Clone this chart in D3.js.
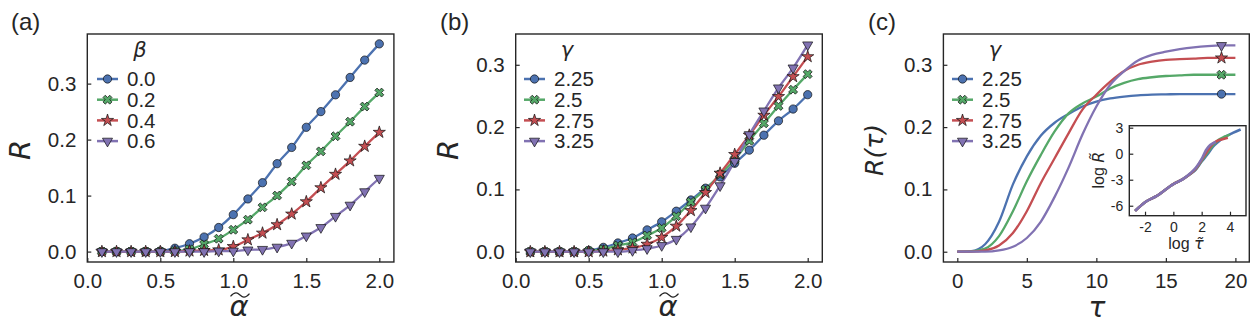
<!DOCTYPE html>
<html>
<head>
<meta charset="utf-8">
<script src="https://cdn.jsdelivr.net/npm/d3@7"></script>
<style>
body { margin: 0; background: #fff; }
svg { display: block; }
.tk text { font-family: "Liberation Sans", Arial, sans-serif; fill: #262626; }
.tk line { stroke: #262626; stroke-width: 1.2; }
.math { font-family: "DejaVu Sans", sans-serif; font-style: italic; fill: #262626; }
.txt { font-family: "Liberation Sans", Arial, sans-serif; fill: #262626; }
</style>
</head>
<body>
<svg id="fig" width="1260" height="332"></svg>
<script>
// ---- data ----
var alpha = [0.1,0.2,0.3,0.4,0.5,0.6,0.7,0.8,0.9,1.0,1.1,1.2,1.3,1.4,1.5,1.6,1.7,1.8,1.9,2.0];

var betaLabels = ["0.0","0.2","0.4","0.6"];
var rBeta00 = [0,0,0,0,0.001,0.006,0.014,0.026,0.043,0.066,0.094,0.123,0.157,0.186,0.222,0.250,0.280,0.311,0.342,0.371];
var rBeta02 = [0,0,0,0,0,0.001,0.004,0.013,0.023,0.039,0.057,0.079,0.100,0.125,0.154,0.179,0.206,0.232,0.259,0.284];
var rBeta04 = [0,0,0,0,0,0,0.001,0.002,0.003,0.009,0.021,0.033,0.048,0.067,0.089,0.114,0.138,0.162,0.188,0.213];
var rBeta06 = [0,0,0,0,0,0,0,0,0.001,0.001,0.003,0.004,0.008,0.015,0.028,0.043,0.063,0.083,0.107,0.131];

var gammaLabels = ["2.25","2.5","2.75","3.25"];
var rGam225 = [0,0,0,0,0.002,0.007,0.014,0.022,0.035,0.048,0.065,0.083,0.102,0.120,0.142,0.163,0.187,0.210,0.229,0.252];
var rGam25  = [0,0,0,0,0.001,0.004,0.010,0.015,0.026,0.038,0.057,0.080,0.100,0.124,0.148,0.178,0.206,0.234,0.260,0.285];
var rGam275 = [0,0,0,0,0,0.001,0.003,0.006,0.012,0.023,0.041,0.066,0.095,0.126,0.156,0.187,0.219,0.249,0.281,0.313];
var rGam325 = [0,0,0,0,0,0,0,0.002,0.005,0.010,0.020,0.040,0.070,0.106,0.145,0.188,0.226,0.263,0.295,0.332];

var tau = [0,1,2,3,4,5,6,7,8,9,10,11,12,13,14,15,16,17,18,19,20];
var rTau225 = [0,0.001,0.012,0.048,0.108,0.153,0.186,0.207,0.221,0.233,0.241,0.246,0.249,0.251,0.252,0.2525,0.253,0.253,0.253,0.253,0.253];
var rTau25  = [0,0.0005,0.005,0.025,0.065,0.113,0.155,0.193,0.222,0.238,0.249,0.262,0.271,0.277,0.280,0.282,0.283,0.284,0.284,0.284,0.284];
var rTau275 = [0,0,0.002,0.010,0.030,0.065,0.110,0.150,0.190,0.228,0.252,0.273,0.290,0.300,0.305,0.308,0.309,0.310,0.311,0.311,0.311];
var rTau325 = [0,0,0,0.002,0.008,0.022,0.048,0.088,0.135,0.188,0.233,0.268,0.290,0.307,0.316,0.321,0.325,0.328,0.330,0.331,0.331];
var markerTau = 19;

// inset: log tau~ vs log R~
var inset225 = [[-2.7,-6.6],[-2,-5.6],[-1.2,-4.9],[0,-3.5],[0.7,-2.9],[1.2,-2.35],[1.6,-1.8],[2.0,-0.9],[2.4,-0.1],[2.8,0.8],[3.2,1.4],[3.6,1.9],[4.2,2.4],[4.75,2.8]];
var inset25  = [[-2.7,-6.6],[-2,-5.6],[-1.2,-4.9],[0,-3.5],[0.7,-2.9],[1.2,-2.3],[1.6,-1.75],[2.0,-0.8],[2.4,0.1],[2.8,1.0],[3.2,1.6],[3.6,1.95],[4.0,2.2]];
var inset275 = [[-2.7,-6.6],[-2,-5.6],[-1.2,-4.9],[0,-3.5],[0.7,-2.9],[1.2,-2.3],[1.6,-1.7],[2.0,-0.7],[2.4,0.3],[2.7,1.0],[3.0,1.4],[3.4,1.65],[3.85,1.85]];
var inset325 = [[-2.7,-6.6],[-2,-5.6],[-1.2,-4.9],[0,-3.5],[0.7,-2.9],[1.2,-2.25],[1.6,-1.6],[2.0,-0.6],[2.3,0.4],[2.6,1.0],[2.85,1.25],[3.0,1.35]];

var colors = ["#4c72b0","#55a868","#c44e52","#8172b2"];
var symbols = [
  {type: d3.symbolCircle, size: 54, rot: 0},
  {type: d3.symbolCross, size: 50, rot: 45},
  {type: d3.symbolStar, size: 46, rot: 0},
  {type: d3.symbolTriangle, size: 44, rot: 180}
];

var svg = d3.select("#fig");

function marker(g, i, x, y) {
  var s = symbols[i];
  g.append("path")
    .attr("d", d3.symbol().type(s.type).size(s.size)())
    .attr("transform", "translate(" + x + "," + y + ") rotate(" + s.rot + ")")
    .attr("fill", colors[i])
    .attr("stroke", "#111")
    .attr("stroke-width", 0.7);
}

function frame(g, x, y, fs, pad, xticks, yticks, xfmt, yfmt) {
  var ax = g.append("g").attr("class", "tk")
    .attr("transform", "translate(0," + y.range()[0] + ")")
    .call(d3.axisBottom(x).tickValues(xticks).tickFormat(xfmt).tickSizeInner(-4).tickSizeOuter(0).tickPadding(pad));
  ax.select(".domain").remove();
  ax.selectAll("text").attr("font-size", fs).attr("font-family", null);
  var ay = g.append("g").attr("class", "tk")
    .attr("transform", "translate(" + x.range()[0] + ",0)")
    .call(d3.axisLeft(y).tickValues(yticks).tickFormat(yfmt).tickSizeInner(-4).tickSizeOuter(0).tickPadding(pad));
  ay.select(".domain").remove();
  ay.selectAll("text").attr("font-size", fs).attr("font-family", null);
  g.append("rect")
    .attr("x", x.range()[0]).attr("y", y.range()[1])
    .attr("width", x.range()[1] - x.range()[0])
    .attr("height", y.range()[0] - y.range()[1])
    .attr("fill", "none").attr("stroke", "#262626").attr("stroke-width", 1.4);
}

function tilde(g, cx, cy, w) {
  var h = w * 0.18, p = d3.path();
  p.moveTo(cx - w / 2, cy + h * 0.4);
  p.bezierCurveTo(cx - w / 4, cy - h * 1.2, cx - w / 8, cy - h * 0.6, cx, cy);
  p.bezierCurveTo(cx + w / 8, cy + h * 0.6, cx + w / 4, cy + h * 1.2, cx + w / 2, cy - h * 0.4);
  g.append("path").attr("d", p.toString()).attr("fill", "none")
    .attr("stroke", "#262626").attr("stroke-width", 1.3);
}

function legend(g, x0, title, labels) {
  g.append("text").attr("class", "math").attr("x", x0 + 43).attr("y", 57)
    .attr("text-anchor", "middle").attr("font-size", 21).text(title);
  labels.forEach(function(lb, i) {
    var yy = 79 + i * 20.7;
    g.append("line").attr("x1", x0).attr("x2", x0 + 21).attr("y1", yy).attr("y2", yy)
      .attr("stroke", colors[i]).attr("stroke-width", 2.5);
    marker(g, i, x0 + 10.5, yy);
    g.append("text").attr("class", "txt").attr("x", x0 + 30).attr("y", yy + 7.3)
      .attr("font-size", 20.5).text(lb);
  });
}

var f1 = d3.format(".1f");
var line = d3.line().curve(d3.curveMonotoneX);

// ---------- panel (a) and (b) ----------
function alphaPanel(left, right, ydom, series, leg, legTitle, legLabels, lab, labX, rX, aX) {
  var g = svg.append("g");
  var x = d3.scaleLinear().domain([0, 2.1]).range([left, right]);
  var y = d3.scaleLinear().domain(ydom).range([262, 34]);
  frame(g, x, y, 20.5, 11, [0, 0.5, 1.0, 1.5, 2.0], [0, 0.1, 0.2, 0.3], f1, f1);
  series.forEach(function(vals, i) {
    var pts = alpha.map(function(a, k) { return [x(a), y(vals[k])]; });
    g.append("path").attr("d", line(pts)).attr("fill", "none")
      .attr("stroke", colors[i]).attr("stroke-width", 2.3);
  });
  series.forEach(function(vals, i) {
    alpha.forEach(function(a, k) { marker(g, i, x(a), y(vals[k])); });
  });
  legend(g, leg, legTitle, legLabels);
  g.append("text").attr("class", "txt").attr("x", labX).attr("y", 30).attr("font-size", 24).text(lab);
  g.append("text").attr("class", "math").attr("font-size", 29).attr("text-anchor", "middle")
    .attr("transform", "translate(" + rX + ",150) rotate(-90)").attr("dy", "0.36em").text("R");
  g.append("text").attr("class", "math").attr("font-size", 29).attr("text-anchor", "middle")
    .attr("x", aX).attr("y", 316).text("α");
  tilde(g, aX + 1, 295, 19);
}

alphaPanel(87.3, 393.9, [-0.0186, 0.3886], [rBeta00, rBeta02, rBeta04, rBeta06],
  97, "β", betaLabels, "(a)", 11, 20, 239);
alphaPanel(515.7, 822.3, [-0.0165, 0.3494], [rGam225, rGam25, rGam275, rGam325],
  524, "γ", gammaLabels, "(b)", 440, 448, 668);

// ---------- panel (c) ----------
(function() {
  var g = svg.append("g");
  var x = d3.scaleLinear().domain([-1, 21]).range([943.4, 1249.3]);
  var y = d3.scaleLinear().domain([-0.0165, 0.3494]).range([262, 34]);
  frame(g, x, y, 20.5, 11, [0, 5, 10, 15, 20], [0, 0.1, 0.2, 0.3], d3.format("d"), f1);
  var ser = [rTau225, rTau25, rTau275, rTau325];
  ser.forEach(function(vals, i) {
    var pts = tau.map(function(t, k) { return [x(t), y(vals[k])]; });
    g.append("path").attr("d", line(pts)).attr("fill", "none")
      .attr("stroke", colors[i]).attr("stroke-width", 2.3);
  });
  ser.forEach(function(vals, i) {
    marker(g, i, x(markerTau), y(vals[tau.indexOf(markerTau)]));
  });
  legend(g, 952, "γ", gammaLabels);
  g.append("text").attr("class", "txt").attr("x", 868).attr("y", 30).attr("font-size", 24).text("(c)");
  g.append("text").attr("class", "math").attr("font-size", 25).attr("text-anchor", "middle")
    .attr("transform", "translate(874,150) rotate(-90)").attr("dy", "0.36em").text("R(τ)");
  g.append("text").attr("class", "math").attr("font-size", 28).attr("text-anchor", "middle")
    .attr("x", 1097).attr("y", 317).text("τ");

  // inset
  var ix = d3.scaleLinear().domain([-3.11, 5.13]).range([1129.3, 1246]);
  var iy = d3.scaleLinear().domain([-7.15, 3.23]).range([215.7, 125.7]);
  g.append("rect").attr("x", 1129.3).attr("y", 125.7).attr("width", 116.7).attr("height", 90)
    .attr("fill", "#fff");
  var ig = g.append("g");
  var ifmt = function(d) { return String(d); };
  [inset225, inset25, inset275, inset325].forEach(function(pts, i) {
    ig.append("path").attr("d", d3.line().curve(d3.curveMonotoneX)
        .x(function(d) { return ix(d[0]); }).y(function(d) { return iy(d[1]); })(pts))
      .attr("fill", "none").attr("stroke", colors[i]).attr("stroke-width", 2.6);
  });
  frame(ig, ix, iy, 14, 6, [-2, 0, 2, 4], [3, 0, -3, -6], ifmt, ifmt);
  ig.append("text").attr("class", "txt").attr("font-size", 16).attr("text-anchor", "middle")
    .attr("x", 1186).attr("y", 249)
    .call(function(t) {
      t.append("tspan").text("log ");
      t.append("tspan").attr("class", "math").text("τ\u0303");
    });
  ig.append("text").attr("class", "txt").attr("font-size", 16).attr("text-anchor", "middle")
    .attr("transform", "translate(1098,170) rotate(-90)").attr("dy", "0.36em")
    .call(function(t) {
      t.append("tspan").text("log ");
      t.append("tspan").attr("class", "math").text("R\u0303");
    });
})();
</script>
</body>
</html>
